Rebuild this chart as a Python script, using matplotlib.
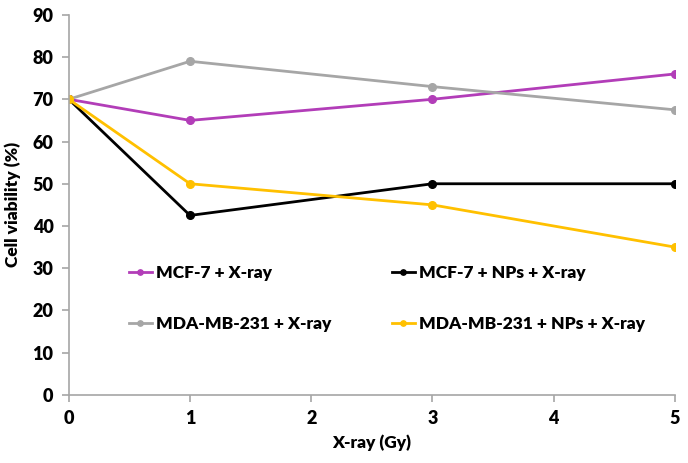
import matplotlib
matplotlib.use("Agg")
import matplotlib.pyplot as plt

x = [0, 1, 3, 5]
mcf7_xray = [70, 65, 70, 76]
mcf7_nps_xray = [70, 42.5, 50, 50]
mda_xray = [70, 79, 73, 67.5]
mda_nps_xray = [70, 50, 45, 35]
labels = ["MCF-7 + X-ray", "MCF-7 + NPs + X-ray", "MDA-MB-231 + X-ray", "MDA-MB-231 + NPs + X-ray"]
colors = ["#B23DB8", "#000000", "#A6A6A6", "#FFC000"]

plt.rcParams['font.family'] = ['Lato', 'DejaVu Sans']
plt.rcParams['font.weight'] = 'bold'

fig = plt.figure(figsize=(6.88, 4.63), dpi=100)
ax = fig.add_axes([0.100, 0.147, 0.881, 0.821])

series = [mcf7_xray, mcf7_nps_xray, mda_xray, mda_nps_xray]
handles = []
for ys, c, lab in zip(series, colors, labels):
    h, = ax.plot(x, ys, color=c, lw=2, marker='o', ms=5.5, label=lab)
    handles.append(h)

ax.set_xlim(0, 5)
ax.set_ylim(0, 90)
ax.set_xticks(range(6))
ax.set_yticks(range(0, 91, 10))
for s in ['top', 'right']:
    ax.spines[s].set_visible(False)
for s in ['left', 'bottom']:
    ax.spines[s].set_color('#A6A6A6')
    ax.spines[s].set_linewidth(1.2)
ax.tick_params(colors='#A6A6A6', labelcolor='black', labelsize=13, length=5, width=1.2, pad=6)
for t in ax.get_xticklabels() + ax.get_yticklabels():
    t.set_fontweight('heavy')
ax.set_xlabel("X-ray (Gy)", fontsize=12.5, fontweight='heavy', labelpad=5)
ax.set_ylabel("Cell viability (%)", fontsize=12.5, fontweight='heavy', labelpad=8)

order = [0, 2, 1, 3]
leg = ax.legend([handles[i] for i in order], [labels[i] for i in order], ncol=2,
                loc='upper left', bbox_to_anchor=(0.088, 0.36), bbox_transform=ax.transAxes,
                frameon=False, fontsize=12.5, handlelength=1.3, handletextpad=0.25,
                columnspacing=3.5, labelspacing=2.0, markerscale=0.7, borderaxespad=0)
for t in leg.get_texts():
    t.set_fontweight('heavy')

fig.savefig("out.png", dpi=100)
